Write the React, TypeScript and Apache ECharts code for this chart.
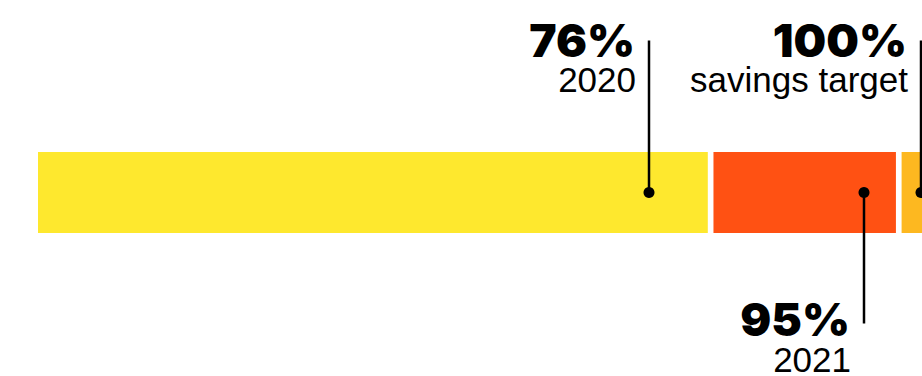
import React, { useEffect, useRef } from "react";
import * as echarts from "echarts";

// Bar segments (value-axis units, %)
const segmentNames = ["2020 progress", "2021 progress", "remaining"];
const segmentStarts = [22.1, 81.7, 98.3];
const segmentEnds = [81.2, 97.8, 101];
const segmentColors = ["#fee82e", "#ff5113", "#fdb820"];

// Annotations
const markerValues = [76, 95, 100];
const markerBigLabels = ["76%", "95%", "100%"];
const markerSmallLabels = ["2020", "2021", "savings target"];
const markerDirections = ["up", "down", "up"];

const category = ["savings"];

export default function App() {
  const ref = useRef<HTMLDivElement>(null);
  useEffect(() => {
    if (!ref.current) return;
    const chart = echarts.init(ref.current, undefined, { renderer: "svg" });
    const segData = segmentStarts.map((s, i) => [s, segmentEnds[i], 0, i]);
    const markData = markerValues.map((v, i) => [v, 0, i]);
    chart.setOption({
      animation: false,
      grid: { left: 38, right: 0, top: 152, height: 81 },
      xAxis: { type: "value", min: 22.1, max: 100.1, show: false },
      yAxis: { type: "category", data: category, show: false },
      series: [
        {
          type: "custom",
          name: "segments",
          clip: false,
          data: segData,
          encode: { x: [0, 1], y: 2 },
          renderItem: (params: any, api: any) => {
            const a = api.coord([api.value(0), 0]);
            const b = api.coord([api.value(1), 0]);
            const h = api.size([0, 1])[1];
            const idx = api.value(3);
            const rect = echarts.graphic.clipRectByRect(
              { x: a[0], y: a[1] - h / 2, width: b[0] - a[0], height: h },
              { x: 0, y: 0, width: 922, height: 376 }
            );
            return {
              type: "rect",
              shape: rect,
              style: { fill: segmentColors[idx] },
            };
          },
        },
        {
          type: "custom",
          name: "markers",
          clip: false,
          z: 5,
          data: markData,
          encode: { x: 0, y: 1 },
          renderItem: (params: any, api: any) => {
            const i = api.value(2);
            const p = api.coord([api.value(0), 0]);
            const x = Math.round(p[0]);
            const y = p[1];
            const up = markerDirections[i] === "up";
            const lineEnd = up ? y - 152 : y + 131;
            const bigY = up ? y - 153 : y + 126;
            const smallY = up ? y - 113 : y + 167;
            return {
              type: "group",
              children: [
                {
                  type: "line",
                  shape: { x1: x, y1: y, x2: x, y2: lineEnd },
                  style: { stroke: "#000", lineWidth: 2.5 },
                },
                {
                  type: "circle",
                  shape: { cx: x, cy: y, r: 5.5 },
                  style: { fill: "#000" },
                },
                {
                  type: "text",
                  x: x - 14,
                  y: bigY,
                  style: {
                    text: markerBigLabels[i],
                    fill: "#000",
                    font: "900 46px Inter",
                    lineHeight: 36,
                    align: "right",
                    verticalAlign: "middle",
                  },
                },
                {
                  type: "text",
                  x: x - 13,
                  y: smallY,
                  style: {
                    text: markerSmallLabels[i],
                    fill: "#000",
                    font: "normal 35px 'Liberation Sans'",
                    lineHeight: 28,
                    align: "right",
                    verticalAlign: "middle",
                  },
                },
              ],
            };
          },
        },
      ],
    });
    return () => chart.dispose();
  }, []);
  return (
    <div
      ref={ref}
      style={{ position: "absolute", left: 0, top: 0, width: 922, height: 376 }}
    />
  );
}
